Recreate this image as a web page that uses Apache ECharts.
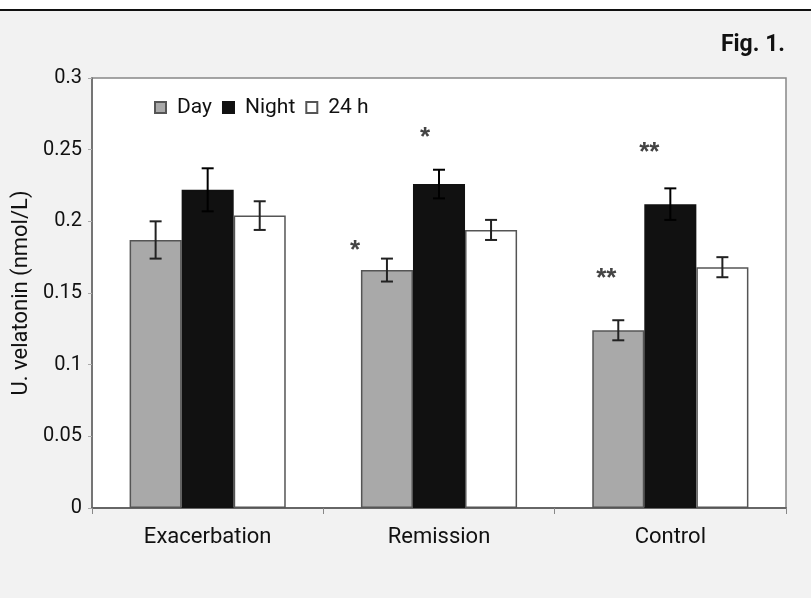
<!DOCTYPE html>
<html>
<head>
<meta charset="utf-8">
<script src="https://cdn.jsdelivr.net/npm/echarts@6/dist/echarts.min.js"></script>
<style>
html,body{margin:0;padding:0;background:#f2f2f2;}
#chart{width:811px;height:598px;}
</style>
</head>
<body>
<div id="chart"></div>
<script>
// ---- data ----
var categories = ['Exacerbation', 'Remission', 'Control'];
var seriesNames = ['Day', 'Night', '24 h'];
var dayValues   = [0.187, 0.166, 0.124];
var nightValues = [0.222, 0.226, 0.212];
var h24Values   = [0.204, 0.194, 0.168];
var dayErrors   = [0.013, 0.008, 0.007];
var nightErrors = [0.015, 0.010, 0.011];
var h24Errors   = [0.010, 0.007, 0.007];
var yTickLabels = ['0', '0.05', '0.1', '0.15', '0.2', '0.25', '0.3'];
// significance marks: category index, series index, y value, text
var sigCategory = [1, 1, 2, 2];
var sigSeries   = [0, 1, 0, 1];
var sigY        = [0.1835, 0.2625, 0.164, 0.252];
var sigText     = ['*', '*', '**', '**'];

// ---- styles ----
var GAP = 0.325;
var sigDx = [-32, -14, -12, -21];
var barColors = ['#a9a9a9', '#111111', '#ffffff'];
var barBorders = ['#555555', '#111111', '#555555'];
var errColors = ['#222222', '#000000', '#222222'];
var FONT = 'Roboto, "Noto Sans", sans-serif';

var allValues = [dayValues, nightValues, h24Values];
var allErrors = [dayErrors, nightErrors, h24Errors];

var errData = [];
for (var s = 0; s < 3; s++) {
  for (var c = 0; c < categories.length; c++) {
    errData.push([c, s, allValues[s][c], allErrors[s][c]]);
  }
}
var sigData = [];
for (var k = 0; k < sigText.length; k++) {
  sigData.push([sigCategory[k], sigSeries[k], sigY[k], k]);
}

var chart = echarts.init(document.getElementById('chart'), null, {renderer: 'canvas'});

var barSeries = seriesNames.map(function (name, i) {
  return {
    name: name,
    type: 'bar',
    data: allValues[i],
    barGap: '0%',
    barCategoryGap: (GAP * 100) + '%',
    itemStyle: {color: barColors[i], borderColor: barBorders[i], borderWidth: 1.5},
    emphasis: {disabled: true},
    z: 2
  };
});

function barX(api, ci, si) {
  var band = api.size([1, 0])[0];
  var bw = band * (1 - GAP) / 3;
  return api.coord([ci, 0])[0] + (si - 1) * bw;
}

var option = {
  backgroundColor: '#f2f2f2',
  animation: false,
  textStyle: {fontFamily: FONT},
  graphic: [
    {type: 'rect', left: 0, top: 0, shape: {width: 811, height: 10}, style: {fill: '#ffffff'}, z: 0},
    {type: 'line', shape: {x1: 0, y1: 10, x2: 811, y2: 10}, style: {stroke: '#111', lineWidth: 2}, z: 1},
    {type: 'text', right: 26, top: 34, style: {text: 'Fig. 1.', font: 'bold 23px ' + FONT, fill: '#111'}}
  ],
  legend: {
    data: seriesNames,
    left: 149,
    top: 92,
    itemWidth: 11,
    itemHeight: 11,
    itemGap: 10,
    icon: 'rect',
    textStyle: {fontSize: 21, color: '#111', fontFamily: FONT, padding: [0, 0, 0, 6]},
    selectedMode: false
  },
  grid: {
    left: 92, right: 25, top: 78, bottom: 90,
    show: true, backgroundColor: '#ffffff', borderColor: '#888', borderWidth: 1.5
  },
  xAxis: {
    type: 'category',
    data: categories,
    axisLine: {lineStyle: {color: '#666', width: 2}},
    axisTick: {show: true, alignWithLabel: false, length: 6, lineStyle: {color: '#888'}},
    axisLabel: {fontSize: 22, color: '#111', margin: 18, fontFamily: FONT}
  },
  yAxis: {
    type: 'value',
    min: 0, max: 0.3, interval: 0.05,
    name: 'U. velatonin (nmol/L)',
    nameLocation: 'middle',
    nameGap: 60,
    nameTextStyle: {fontSize: 22, color: '#111', fontFamily: FONT},
    axisLine: {show: true, lineStyle: {color: '#666', width: 1.5}},
    axisTick: {show: true, length: 4, lineStyle: {color: '#aaa'}},
    splitLine: {show: false},
    axisLabel: {
      fontSize: 20, color: '#111', margin: 10, fontFamily: FONT,
      formatter: function (v) { return yTickLabels[Math.round(v / 0.05)]; }
    }
  },
  series: barSeries.concat([
    {
      type: 'custom',
      name: 'errors',
      data: errData,
      encode: {x: 0, y: 2},
      z: 5,
      silent: true,
      renderItem: function (params, api) {
        var ci = api.value(0), si = api.value(1), v = api.value(2), e = api.value(3);
        var x = barX(api, ci, si);
        var yt = api.coord([ci, v + e])[1];
        var yb = api.coord([ci, v - e])[1];
        var hw = 6;
        var st = {stroke: errColors[si], lineWidth: 2};
        return {
          type: 'group',
          children: [
            {type: 'line', shape: {x1: x, y1: yt, x2: x, y2: yb}, style: st},
            {type: 'line', shape: {x1: x - hw, y1: yt, x2: x + hw, y2: yt}, style: st},
            {type: 'line', shape: {x1: x - hw, y1: yb, x2: x + hw, y2: yb}, style: st}
          ]
        };
      }
    },
    {
      type: 'custom',
      name: 'significance',
      data: sigData,
      encode: {x: 0, y: 2},
      z: 6,
      silent: true,
      renderItem: function (params, api) {
        var ci = api.value(0), si = api.value(1), y = api.value(2), k = api.value(3);
        var x = barX(api, ci, si) + sigDx[k];
        var py = api.coord([ci, y])[1];
        return {
          type: 'text',
          style: {
            text: sigText[k], x: x, y: py + 6,
            align: 'center', verticalAlign: 'middle',
            font: 'bold 26px "Liberation Sans", sans-serif', fill: '#444'
          }
        };
      }
    }
  ])
};
chart.setOption(option);
</script>
</body>
</html>
